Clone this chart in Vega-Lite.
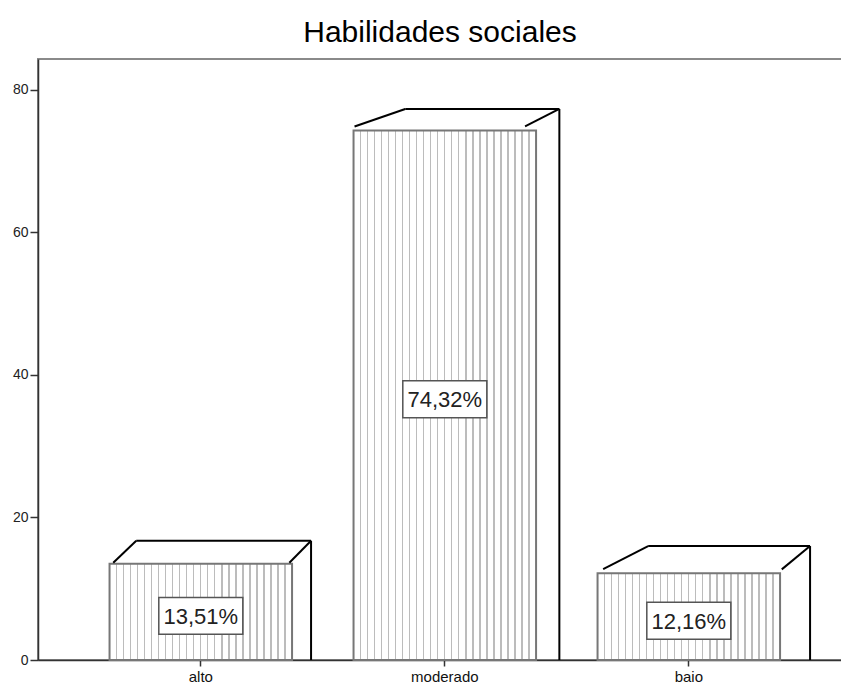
{
  "$schema": "https://vega.github.io/schema/vega-lite/v6.json",
  "width": 804,
  "height": 601,
  "autosize": "none",
  "padding": {"left": 38, "top": 59, "right": 0, "bottom": 27},
  "background": "white",
  "title": {"text": "Habilidades sociales", "font": "Liberation Sans", "fontSize": 30, "fontWeight": "normal", "color": "#000000", "baseline": "alphabetic", "offset": -13, "anchor": "middle"},
  "config": {"view": {"stroke": "#8a8a8a", "strokeWidth": 2}},
  "data": {"values": [
    {"categoria": "alto", "porcentaje": 13.51, "etiqueta": "13,51%"},
    {"categoria": "moderado", "porcentaje": 74.32, "etiqueta": "74,32%"},
    {"categoria": "baio", "porcentaje": 12.16, "etiqueta": "12,16%"}
  ]},
  "resolve": {"scale": {"y": "independent"}},
  "layer": [
    {
      "layer": [
        {
          "mark": {"type": "bar", "fill": {"gradient": "linear", "x1": 0, "y1": 0, "x2": 1, "y2": 0, "stops": [
            {"offset": 0, "color": "#ffffff"},
            {"offset": 0.0350, "color": "#ffffff"}, {"offset": 0.0350, "color": "#bcbcbc"}, {"offset": 0.0420, "color": "#bcbcbc"}, {"offset": 0.0420, "color": "#ffffff"},
            {"offset": 0.0734, "color": "#ffffff"}, {"offset": 0.0734, "color": "#bcbcbc"}, {"offset": 0.0804, "color": "#bcbcbc"}, {"offset": 0.0804, "color": "#ffffff"},
            {"offset": 0.1119, "color": "#ffffff"}, {"offset": 0.1119, "color": "#bcbcbc"}, {"offset": 0.1189, "color": "#bcbcbc"}, {"offset": 0.1189, "color": "#ffffff"},
            {"offset": 0.1503, "color": "#ffffff"}, {"offset": 0.1503, "color": "#bcbcbc"}, {"offset": 0.1573, "color": "#bcbcbc"}, {"offset": 0.1573, "color": "#ffffff"},
            {"offset": 0.1888, "color": "#ffffff"}, {"offset": 0.1888, "color": "#bcbcbc"}, {"offset": 0.1958, "color": "#bcbcbc"}, {"offset": 0.1958, "color": "#ffffff"},
            {"offset": 0.2273, "color": "#ffffff"}, {"offset": 0.2273, "color": "#bcbcbc"}, {"offset": 0.2343, "color": "#bcbcbc"}, {"offset": 0.2343, "color": "#ffffff"},
            {"offset": 0.2657, "color": "#ffffff"}, {"offset": 0.2657, "color": "#bcbcbc"}, {"offset": 0.2727, "color": "#bcbcbc"}, {"offset": 0.2727, "color": "#ffffff"},
            {"offset": 0.3042, "color": "#ffffff"}, {"offset": 0.3042, "color": "#bcbcbc"}, {"offset": 0.3112, "color": "#bcbcbc"}, {"offset": 0.3112, "color": "#ffffff"},
            {"offset": 0.3427, "color": "#ffffff"}, {"offset": 0.3427, "color": "#bcbcbc"}, {"offset": 0.3497, "color": "#bcbcbc"}, {"offset": 0.3497, "color": "#ffffff"},
            {"offset": 0.3811, "color": "#ffffff"}, {"offset": 0.3811, "color": "#bcbcbc"}, {"offset": 0.3881, "color": "#bcbcbc"}, {"offset": 0.3881, "color": "#ffffff"},
            {"offset": 0.4196, "color": "#ffffff"}, {"offset": 0.4196, "color": "#bcbcbc"}, {"offset": 0.4266, "color": "#bcbcbc"}, {"offset": 0.4266, "color": "#ffffff"},
            {"offset": 0.4580, "color": "#ffffff"}, {"offset": 0.4580, "color": "#bcbcbc"}, {"offset": 0.4650, "color": "#bcbcbc"}, {"offset": 0.4650, "color": "#ffffff"},
            {"offset": 0.4965, "color": "#ffffff"}, {"offset": 0.4965, "color": "#bcbcbc"}, {"offset": 0.5035, "color": "#bcbcbc"}, {"offset": 0.5035, "color": "#ffffff"},
            {"offset": 0.5350, "color": "#ffffff"}, {"offset": 0.5350, "color": "#bcbcbc"}, {"offset": 0.5420, "color": "#bcbcbc"}, {"offset": 0.5420, "color": "#ffffff"},
            {"offset": 0.5734, "color": "#ffffff"}, {"offset": 0.5734, "color": "#bcbcbc"}, {"offset": 0.5804, "color": "#bcbcbc"}, {"offset": 0.5804, "color": "#ffffff"},
            {"offset": 0.6119, "color": "#ffffff"}, {"offset": 0.6119, "color": "#bcbcbc"}, {"offset": 0.6189, "color": "#bcbcbc"}, {"offset": 0.6189, "color": "#ffffff"},
            {"offset": 0.6504, "color": "#ffffff"}, {"offset": 0.6504, "color": "#bcbcbc"}, {"offset": 0.6574, "color": "#bcbcbc"}, {"offset": 0.6574, "color": "#ffffff"},
            {"offset": 0.6888, "color": "#ffffff"}, {"offset": 0.6888, "color": "#bcbcbc"}, {"offset": 0.6958, "color": "#bcbcbc"}, {"offset": 0.6958, "color": "#ffffff"},
            {"offset": 0.7273, "color": "#ffffff"}, {"offset": 0.7273, "color": "#bcbcbc"}, {"offset": 0.7343, "color": "#bcbcbc"}, {"offset": 0.7343, "color": "#ffffff"},
            {"offset": 0.7657, "color": "#ffffff"}, {"offset": 0.7657, "color": "#bcbcbc"}, {"offset": 0.7727, "color": "#bcbcbc"}, {"offset": 0.7727, "color": "#ffffff"},
            {"offset": 0.8042, "color": "#ffffff"}, {"offset": 0.8042, "color": "#bcbcbc"}, {"offset": 0.8112, "color": "#bcbcbc"}, {"offset": 0.8112, "color": "#ffffff"},
            {"offset": 0.8427, "color": "#ffffff"}, {"offset": 0.8427, "color": "#bcbcbc"}, {"offset": 0.8497, "color": "#bcbcbc"}, {"offset": 0.8497, "color": "#ffffff"},
            {"offset": 0.8811, "color": "#ffffff"}, {"offset": 0.8811, "color": "#bcbcbc"}, {"offset": 0.8881, "color": "#bcbcbc"}, {"offset": 0.8881, "color": "#ffffff"},
            {"offset": 0.9196, "color": "#ffffff"}, {"offset": 0.9196, "color": "#bcbcbc"}, {"offset": 0.9266, "color": "#bcbcbc"}, {"offset": 0.9266, "color": "#ffffff"},
            {"offset": 0.9580, "color": "#ffffff"}, {"offset": 0.9580, "color": "#bcbcbc"}, {"offset": 0.9650, "color": "#bcbcbc"}, {"offset": 0.9650, "color": "#ffffff"},
            {"offset": 1, "color": "#ffffff"}
          ]}, "stroke": "#777777", "strokeWidth": 2},
          "encoding": {
            "x": {"field": "categoria", "type": "nominal", "sort": null,
              "scale": {"type": "band", "paddingInner": 0.252, "paddingOuter": 0.2735, "align": 0.536},
              "axis": {"title": null, "labelAngle": 0, "labelFont": "Liberation Sans", "labelFontSize": 15, "labelColor": "#111111", "tickSize": 6, "tickColor": "#333333", "tickWidth": 1.5, "domainColor": "#333333", "domainWidth": 1.5, "labelPadding": 3, "grid": false}},
            "y": {"field": "porcentaje", "type": "quantitative",
              "scale": {"domain": [0, 84.35], "nice": false, "zero": true},
              "axis": {"title": null, "values": [0, 20, 40, 60, 80], "labelFont": "Liberation Sans", "labelFontSize": 14, "labelColor": "#222222", "tickSize": 8, "tickColor": "#333333", "tickWidth": 1.5, "domainColor": "#333333", "domainWidth": 1.5, "labelPadding": 2, "grid": false}}
          }
        },
        {
          "transform": [{"filter": {"field": "categoria", "equal": "alto"}}],
          "layer": [
            {"mark": {"type": "rule", "color": "#000000", "strokeWidth": 2, "xOffset": 26.7, "x2Offset": 19, "yOffset": -23},
             "encoding": {"x": {"field": "categoria", "type": "nominal", "sort": null, "bandPosition": 0}, "x2": {"field": "categoria", "bandPosition": 1}, "y": {"field": "porcentaje", "type": "quantitative"}}},
            {"mark": {"type": "rule", "color": "#000000", "strokeWidth": 2, "xOffset": 19, "yOffset": -23},
             "encoding": {"x": {"field": "categoria", "type": "nominal", "sort": null, "bandPosition": 1}, "y": {"field": "porcentaje", "type": "quantitative"}, "y2": {"datum": 0}}},
            {"mark": {"type": "rule", "color": "#000000", "strokeWidth": 2, "xOffset": 3.7, "yOffset": -1, "x2Offset": 26.7, "y2Offset": -23},
             "encoding": {"x": {"field": "categoria", "type": "nominal", "sort": null, "bandPosition": 0}, "x2": {"field": "categoria", "bandPosition": 0}, "y": {"field": "porcentaje", "type": "quantitative"}, "y2": {"field": "porcentaje"}}},
            {"mark": {"type": "rule", "color": "#000000", "strokeWidth": 2, "xOffset": -2.7, "yOffset": -1, "x2Offset": 19, "y2Offset": -23},
             "encoding": {"x": {"field": "categoria", "type": "nominal", "sort": null, "bandPosition": 1}, "x2": {"field": "categoria", "bandPosition": 1}, "y": {"field": "porcentaje", "type": "quantitative"}, "y2": {"field": "porcentaje"}}}
          ]
        },
        {
          "transform": [{"filter": {"field": "categoria", "equal": "moderado"}}],
          "layer": [
            {"mark": {"type": "rule", "color": "#000000", "strokeWidth": 2, "xOffset": 51.7, "x2Offset": 23.3, "yOffset": -21.5},
             "encoding": {"x": {"field": "categoria", "type": "nominal", "sort": null, "bandPosition": 0}, "x2": {"field": "categoria", "bandPosition": 1}, "y": {"field": "porcentaje", "type": "quantitative"}}},
            {"mark": {"type": "rule", "color": "#000000", "strokeWidth": 2, "xOffset": 23.3, "yOffset": -21.5},
             "encoding": {"x": {"field": "categoria", "type": "nominal", "sort": null, "bandPosition": 1}, "y": {"field": "porcentaje", "type": "quantitative"}, "y2": {"datum": 0}}},
            {"mark": {"type": "rule", "color": "#000000", "strokeWidth": 2, "xOffset": 1, "yOffset": -4, "x2Offset": 51.7, "y2Offset": -21.5},
             "encoding": {"x": {"field": "categoria", "type": "nominal", "sort": null, "bandPosition": 0}, "x2": {"field": "categoria", "bandPosition": 0}, "y": {"field": "porcentaje", "type": "quantitative"}, "y2": {"field": "porcentaje"}}},
            {"mark": {"type": "rule", "color": "#000000", "strokeWidth": 2, "xOffset": -11, "yOffset": -4, "x2Offset": 23.3, "y2Offset": -21.5},
             "encoding": {"x": {"field": "categoria", "type": "nominal", "sort": null, "bandPosition": 1}, "x2": {"field": "categoria", "bandPosition": 1}, "y": {"field": "porcentaje", "type": "quantitative"}, "y2": {"field": "porcentaje"}}}
          ]
        },
        {
          "transform": [{"filter": {"field": "categoria", "equal": "baio"}}],
          "layer": [
            {"mark": {"type": "rule", "color": "#000000", "strokeWidth": 2, "xOffset": 50.6, "x2Offset": 30, "yOffset": -27.3},
             "encoding": {"x": {"field": "categoria", "type": "nominal", "sort": null, "bandPosition": 0}, "x2": {"field": "categoria", "bandPosition": 1}, "y": {"field": "porcentaje", "type": "quantitative"}}},
            {"mark": {"type": "rule", "color": "#000000", "strokeWidth": 2, "xOffset": 30, "yOffset": -27.3},
             "encoding": {"x": {"field": "categoria", "type": "nominal", "sort": null, "bandPosition": 1}, "y": {"field": "porcentaje", "type": "quantitative"}, "y2": {"datum": 0}}},
            {"mark": {"type": "rule", "color": "#000000", "strokeWidth": 2, "xOffset": 5.6, "yOffset": -4.3, "x2Offset": 50.6, "y2Offset": -27.3},
             "encoding": {"x": {"field": "categoria", "type": "nominal", "sort": null, "bandPosition": 0}, "x2": {"field": "categoria", "bandPosition": 0}, "y": {"field": "porcentaje", "type": "quantitative"}, "y2": {"field": "porcentaje"}}},
            {"mark": {"type": "rule", "color": "#000000", "strokeWidth": 2, "xOffset": 1.7, "yOffset": -4, "x2Offset": 30, "y2Offset": -27.3},
             "encoding": {"x": {"field": "categoria", "type": "nominal", "sort": null, "bandPosition": 1}, "x2": {"field": "categoria", "bandPosition": 1}, "y": {"field": "porcentaje", "type": "quantitative"}, "y2": {"field": "porcentaje"}}}
          ]
        }
      ]
    },
    {
      "layer": [
        {
          "mark": {"type": "point", "shape": "M-1,-0.44L1,-0.44L1,0.44L-1,0.44Z", "size": 7056, "filled": false, "fill": "#ffffff", "fillOpacity": 1, "stroke": "#555555", "strokeWidth": 1.5, "opacity": 1, "yOffset": 4},
          "encoding": {
            "x": {"field": "categoria", "type": "nominal", "sort": null},
            "y": {"field": "porcentaje", "type": "quantitative", "scale": {"domain": [0, 168.7], "nice": false}, "axis": null}
          }
        },
        {
          "mark": {"type": "text", "font": "Liberation Sans", "fontSize": 22, "color": "#222222", "align": "center", "baseline": "middle", "yOffset": 5},
          "encoding": {
            "x": {"field": "categoria", "type": "nominal", "sort": null},
            "y": {"field": "porcentaje", "type": "quantitative"},
            "text": {"field": "etiqueta"}
          }
        }
      ]
    }
  ]
}
